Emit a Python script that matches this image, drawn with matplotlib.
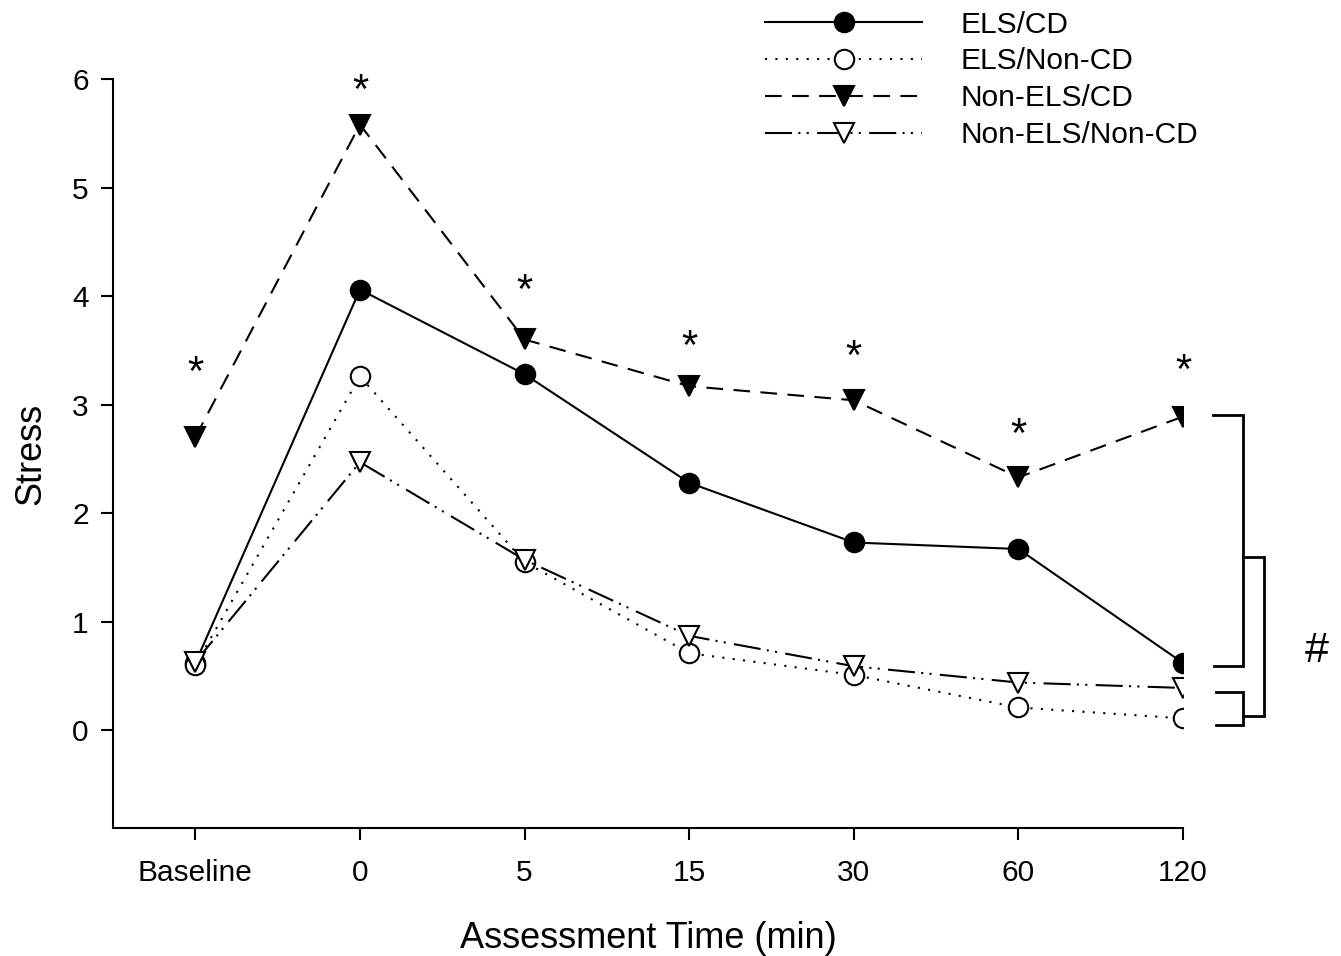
import numpy as np
import matplotlib
matplotlib.use('Agg')
import matplotlib.pyplot as plt

plt.rcParams['font.family'] = ['Liberation Sans', 'DejaVu Sans']

# Data
times = ['Baseline', '0', '5', '15', '30', '60', '120']
els_cd = [0.62, 4.06, 3.28, 2.28, 1.73, 1.67, 0.62]
els_noncd = [0.60, 3.26, 1.55, 0.71, 0.51, 0.21, 0.11]
nonels_cd = [2.70, 5.58, 3.60, 3.17, 3.04, 2.33, 2.89]
nonels_noncd = [0.63, 2.47, 1.57, 0.87, 0.59, 0.44, 0.39]

# significance stars above Non-ELS/CD
star_y = [3.34, 5.94, 4.10, 3.58, 3.49, 2.77, 3.36]

x = np.arange(len(times))

fig = plt.figure(figsize=(13.41, 9.56), dpi=100)
ax = fig.add_axes([0.0843, 0.1339, 0.7979, 0.7835])

lw = 1.5
ms = 14
ax.plot(x, els_cd, color='black', lw=lw, ls='-', marker='o', ms=ms,
        mfc='black', mec='black', mew=1.5, label='ELS/CD', zorder=2)
ax.plot(x, els_noncd, color='black', lw=lw, ls=(0, (1, 4)), marker='o', ms=ms,
        mfc='white', mec='black', mew=1.5, label='ELS/Non-CD', zorder=3)
ax.plot(x, nonels_cd, color='black', lw=lw, ls=(0, (8, 5)), marker='v', ms=ms,
        mfc='black', mec='black', mew=1.5, label='Non-ELS/CD', zorder=4)
ax.plot(x, nonels_noncd, color='black', lw=lw, ls=(0, (13, 3, 1, 3, 1, 4)), marker='v', ms=ms,
        mfc='white', mec='black', mew=1.5, label='Non-ELS/Non-CD', zorder=5)

for xi, yi in zip(x, star_y):
    ax.text(xi, yi - 0.06, '*', ha='center', va='center', fontsize=30)

ax.set_xlim(-0.5, 6)
ax.set_ylim(-0.9, 6)
ax.set_xticks(x)
ax.set_xticklabels(times)
ax.set_yticks(range(0, 7))
ax.tick_params(axis='both', direction='out', length=8.5, width=1.5, labelsize=21.5)
ax.tick_params(axis='x', pad=14)
ax.tick_params(axis='y', pad=9)
for s in ['top', 'right']:
    ax.spines[s].set_visible(False)
for s in ['left', 'bottom']:
    ax.spines[s].set_linewidth(1.5)

ax.set_xlabel('Assessment Time (min)', fontsize=26, labelpad=24)
ax.set_ylabel('Stress', fontsize=26, labelpad=17)

# brackets at the right side
bk = dict(color='black', lw=2, clip_on=False, solid_joinstyle='miter')
ax.plot([6.18, 6.365, 6.365, 6.19], [2.90, 2.90, 0.59, 0.59], **bk)
ax.plot([6.20, 6.365, 6.365, 6.20], [0.35, 0.35, 0.05, 0.05], **bk)
ax.plot([6.365, 6.49, 6.49, 6.365], [1.60, 1.60, 0.13, 0.13], **bk)
ax.text(6.81, 0.73, '#', ha='center', va='center', fontsize=31)

fig.legend(loc='upper left', bbox_to_anchor=(0.5705, 0.989), frameon=False,
           fontsize=21.5, handlelength=5.26, handletextpad=1.27, labelspacing=0.30,
           borderpad=0, borderaxespad=0)

fig.savefig('out.png', dpi=100)
